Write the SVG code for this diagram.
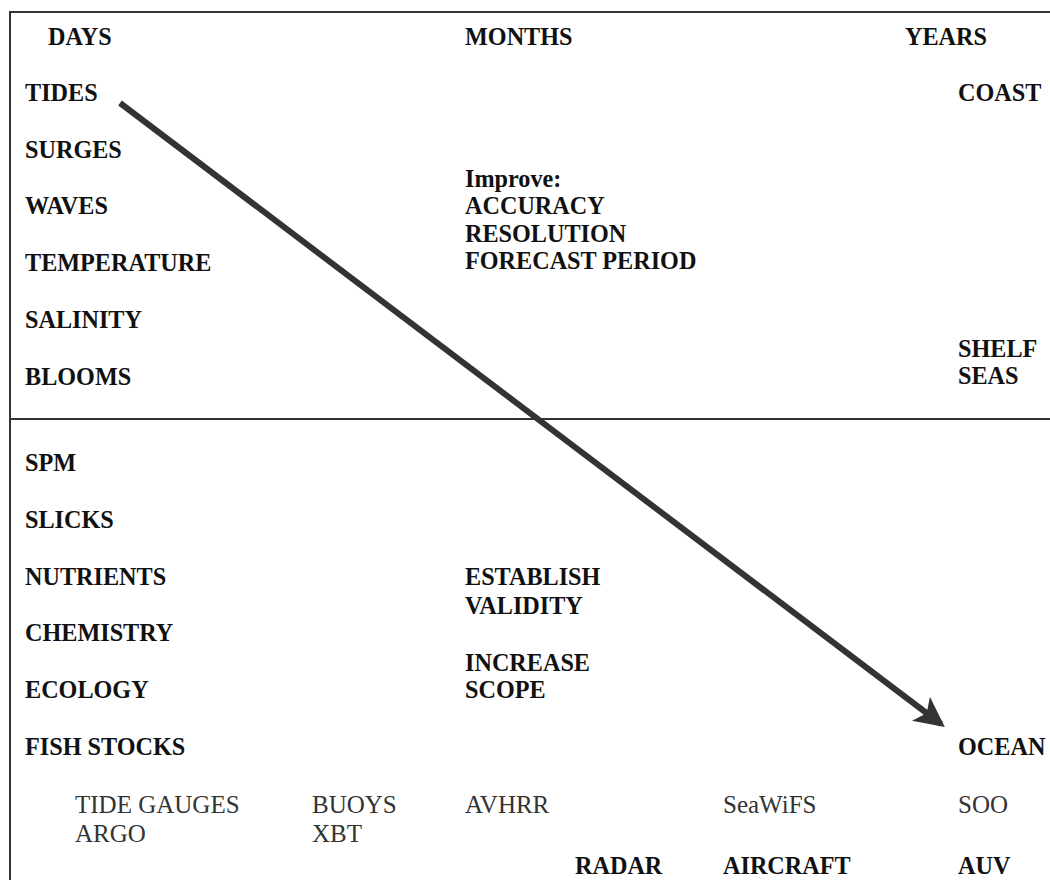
<svg xmlns="http://www.w3.org/2000/svg" width="1050" height="880" viewBox="0 0 1050 880">
<style>
text{font-family:"Liberation Serif","Times New Roman",serif;font-size:24.2px;fill:#111}
.b{font-weight:bold}
.r{font-weight:normal;fill:#333;font-size:25px}
.frame{fill:none;stroke:#333;stroke-width:2}
</style>
<defs>
<marker id="ah" markerWidth="5" markerHeight="5" refX="4.2" refY="2.5" orient="auto" markerUnits="strokeWidth">
<path d="M0,0 L5,2.5 L0,5 L1.2,2.5 Z" fill="#333"/>
</marker>
</defs>
<rect width="1050" height="880" fill="#fff"/>
<g id="frame">
<path class="frame" d="M1052,12 H10 V882"/>
<line class="frame" x1="10" y1="419" x2="1052" y2="419"/>
</g>
<g id="headers">
<text id="days" class="b" x="48" y="45">DAYS</text>
<text id="months" class="b" x="465" y="45">MONTHS</text>
<text id="years" class="b" x="905" y="45">YEARS</text>
</g>
<g id="upper-left">
<text class="b" x="25" y="101">TIDES</text>
<text class="b" x="25" y="158">SURGES</text>
<text class="b" x="25" y="214">WAVES</text>
<text class="b" x="25" y="271">TEMPERATURE</text>
<text class="b" x="25" y="328">SALINITY</text>
<text class="b" x="25" y="385">BLOOMS</text>
</g>
<g id="improve">
<text class="b" x="465" y="187">Improve:</text>
<text class="b" x="465" y="214">ACCURACY</text>
<text class="b" x="465" y="242">RESOLUTION</text>
<text class="b" x="465" y="269">FORECAST PERIOD</text>
</g>
<g id="coast"><text class="b" x="958" y="101">COAST</text></g>
<g id="shelf">
<text class="b" x="958" y="357">SHELF</text>
<text class="b" x="958" y="384">SEAS</text>
</g>
<g id="lower-left">
<text class="b" x="25" y="471">SPM</text>
<text class="b" x="25" y="528">SLICKS</text>
<text class="b" x="25" y="585">NUTRIENTS</text>
<text class="b" x="25" y="641">CHEMISTRY</text>
<text class="b" x="25" y="698">ECOLOGY</text>
<text class="b" x="25" y="755">FISH STOCKS</text>
</g>
<g id="establish">
<text class="b" x="465" y="585">ESTABLISH</text>
<text class="b" x="465" y="614">VALIDITY</text>
</g>
<g id="increase">
<text class="b" x="465" y="671">INCREASE</text>
<text class="b" x="465" y="698">SCOPE</text>
</g>
<g id="ocean"><text class="b" x="958" y="755">OCEAN</text></g>
<g id="instruments">
<text class="r" x="75" y="813">TIDE GAUGES</text>
<text class="r" x="75" y="842">ARGO</text>
<text class="r" x="312" y="813">BUOYS</text>
<text class="r" x="312" y="842">XBT</text>
<text class="r" x="465" y="813">AVHRR</text>
<text class="r" x="723" y="813">SeaWiFS</text>
<text class="r" x="958" y="813">SOO</text>
<text class="b" x="575" y="874">RADAR</text>
<text class="b" x="723" y="874">AIRCRAFT</text>
<text class="b" x="958" y="874">AUV</text>
</g>
<g id="connectors">
<line x1="120" y1="103" x2="941" y2="724" stroke="#333" stroke-width="6" marker-end="url(#ah)"/>
</g>
</svg>
